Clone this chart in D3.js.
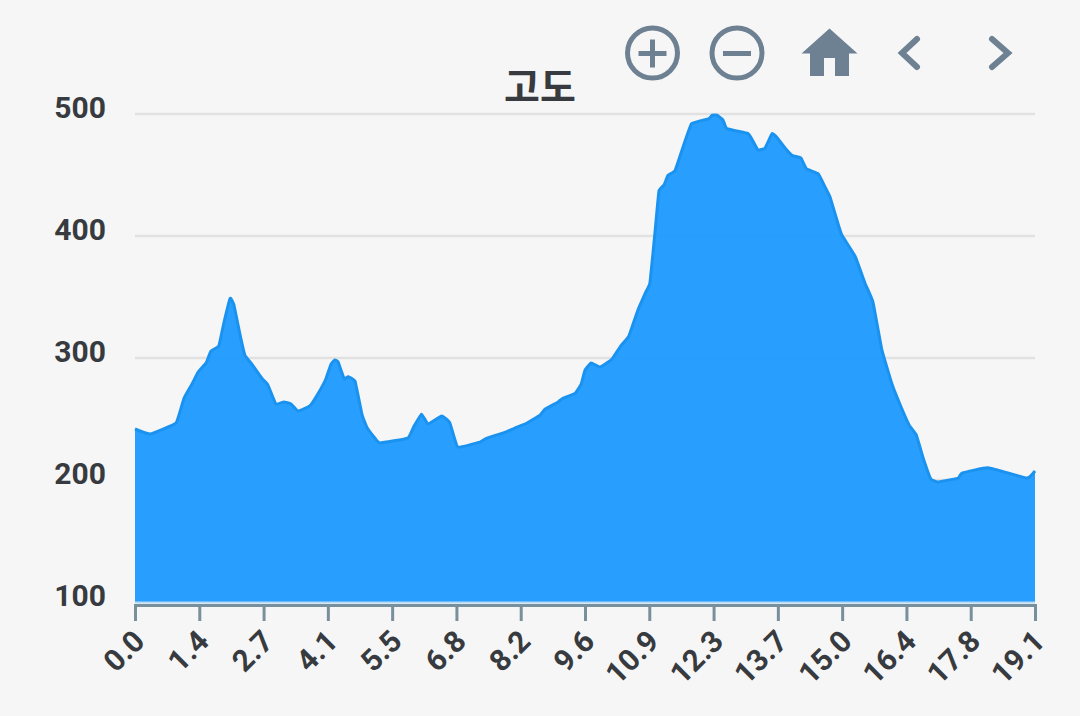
<!DOCTYPE html>
<html>
<head>
<meta charset="utf-8">
<script src="https://cdn.jsdelivr.net/npm/d3@7"></script>
<style>
  html, body { margin: 0; padding: 0; background: #f6f6f6; }
  svg { display: block; }
  text { font-family: Roboto, sans-serif; font-weight: 700; fill: #373b40; }
</style>
</head>
<body>
<svg width="1080" height="716"></svg>
<script>
const title = '고도'
const xTickLabels = ['0.0', '1.4', '2.7', '4.1', '5.5', '6.8', '8.2', '9.6', '10.9', '12.3', '13.7', '15.0', '16.4', '17.8', '19.1']
const yTicks = [100, 200, 300, 400, 500]

// distance in km
const distance = [0, 0.32, 0.87, 1.04, 1.21, 1.34, 1.51, 1.61, 1.78, 1.89, 2.02, 2.10, 2.23, 2.33, 2.48, 2.70, 2.82, 2.99, 3.16, 3.31, 3.46, 3.71, 3.88, 4.05, 4.16, 4.24, 4.31, 4.44, 4.52, 4.67, 4.82, 4.93, 5.09, 5.20, 5.79, 5.92, 6.08, 6.22, 6.51, 6.68, 6.85, 7.32, 7.47, 7.85, 8.06, 8.32, 8.60, 8.70, 8.98, 9.08, 9.34, 9.47, 9.55, 9.68, 9.87, 10.12, 10.31, 10.48, 10.67, 10.84, 10.93, 11.04, 11.12, 11.23, 11.31, 11.46, 11.61, 11.81, 12.17, 12.25, 12.35, 12.48, 12.56, 13.01, 13.09, 13.22, 13.37, 13.52, 13.62, 13.80, 13.95, 14.13, 14.25, 14.50, 14.66, 14.75, 14.92, 15.00, 15.28, 15.49, 15.66, 15.85, 16.07, 16.24, 16.43, 16.58, 16.74, 16.89, 17.04, 17.47, 17.55, 18.10, 18.93, 19.10]
const elevation = [241.8, 237.7, 246.7, 267, 278.7, 288.5, 296, 305.7, 310, 329.5, 349, 343.4, 318.9, 302.5, 295, 283, 278, 262.3, 264, 262.3, 256.6, 260.7, 270.5, 282.8, 295, 298.4, 296.7, 283, 284.7, 281, 253.3, 242.6, 234.4, 230.3, 234.4, 244, 254, 245.9, 252.5, 247, 227, 231, 234.4, 239, 242.6, 246.7, 253.3, 258, 264, 267, 271, 278.7, 290, 296, 292.6, 299, 310, 318, 339, 354, 362, 405, 437, 442, 449.6, 453.6, 470.5, 492, 496, 499, 499, 495, 488, 484, 479.5, 470.5, 472, 484, 481, 472, 466, 464, 455, 451, 439, 432, 410, 400.8, 383.6, 361.5, 346, 306.6, 278, 261.5, 245, 237, 216.4, 200.8, 198.4, 201.6, 205.7, 210, 201.6, 207.4]

const svg = d3.select('svg')
const x = d3.scaleLinear().domain([0, 19.1]).range([135, 1035])
const xTick = d3.scalePoint().domain(xTickLabels).range([135, 1035])
const y = d3.scaleLinear().domain([100, 500]).range([602, 114])

// grid
svg.append('g')
  .selectAll('line')
  .data(yTicks.slice(1))
  .enter().append('line')
    .attr('x1', 135)
    .attr('x2', 1035)
    .attr('y1', d => y(d))
    .attr('y2', d => y(d))
    .attr('stroke', '#e1e1e1')
    .attr('stroke-width', 2.5)

// elevation area
const points = distance.map((d, i) => [d, elevation[i]])
const curve = d3.curveCardinal.tension(0.7)
svg.append('path')
  .datum(points)
  .attr('fill', '#1f9bff')
  .attr('fill-opacity', 0.96)
  .attr('d', d3.area().curve(curve).x(d => x(d[0])).y0(y(100)).y1(d => y(d[1])))
svg.append('path')
  .datum(points)
  .attr('fill', 'none')
  .attr('stroke', '#1a92f0')
  .attr('stroke-width', 3)
  .attr('stroke-linejoin', 'round')
  .attr('d', d3.line().curve(curve).x(d => x(d[0])).y(d => y(d[1])))

// pale line along the base of the area
svg.append('line')
  .attr('x1', 135).attr('x2', 1035)
  .attr('y1', 602.5).attr('y2', 602.5)
  .attr('stroke', '#b5daf5')
  .attr('stroke-width', 2)

// axes
const xAxis = svg.append('g')
  .attr('transform', 'translate(0,605)')
  .call(d3.axisBottom(xTick).tickSize(16).tickPadding(0))
xAxis.selectAll('path, line')
  .attr('stroke', '#78909c')
  .attr('stroke-width', 3)
xAxis.selectAll('text')
  .attr('font-size', 30)
  .attr('text-anchor', 'end')
  .attr('dy', 0)
  .attr('y', 0)
  .attr('transform', 'translate(11,38) rotate(-45)')

const yAxis = svg.append('g')
  .attr('transform', 'translate(106,-6.5)')
  .call(d3.axisLeft(y).tickValues(yTicks).tickSize(0).tickPadding(0))
yAxis.select('.domain').remove()
yAxis.selectAll('text').attr('font-size', 30)

// title
svg.append('text')
  .attr('x', 540)
  .attr('y', 100.5)
  .attr('text-anchor', 'middle')
  .attr('font-size', 39)
  .style('font-family', '"Noto Sans CJK KR", sans-serif')
  .text(title)

// toolbar icons
const icons = svg.append('g')
  .attr('fill', 'none')
  .attr('stroke', '#6e8192')
  .attr('stroke-width', 5)
icons.append('circle').attr('cx', 652.5).attr('cy', 53).attr('r', 25)
icons.append('path').attr('d', 'M638.5 53.5H666.5M652.5 39.5V67.5')
icons.append('circle').attr('cx', 737).attr('cy', 53).attr('r', 25)
icons.append('path').attr('d', 'M723 53.5H751')
icons.append('path').attr('fill', '#6e8192').attr('stroke', 'none')
  .attr('d', 'M829.5 28.5L857.5 53.5H849V76H835V58H824V76H810V53.5H801.5Z')
icons.append('path')
  .attr('stroke-width', 6)
  .attr('stroke-linecap', 'round')
  .attr('stroke-linejoin', 'miter')
  .attr('d', 'M917 39L902 53L917 67M992 39L1008 53L992 67')
</script>
</body>
</html>
